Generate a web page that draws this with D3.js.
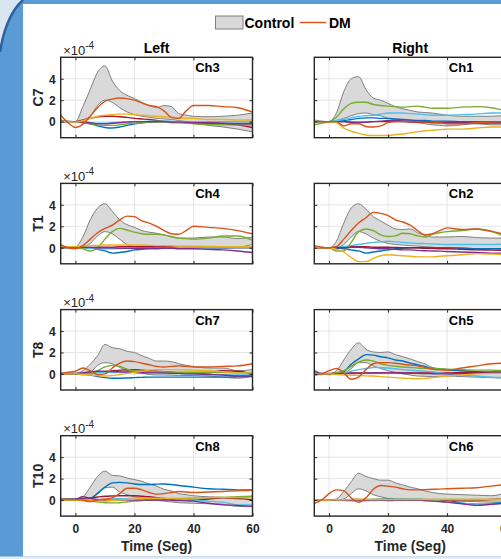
<!DOCTYPE html>
<html><head><meta charset="utf-8">
<script src="https://cdn.jsdelivr.net/npm/d3@7"></script>
<style>body{margin:0;overflow:hidden;background:#5b9bd5}svg{display:block}</style>
</head><body><svg id="c" width="501" height="559"></svg>
<script>
// ---------- data ----------
const times = [-5,-2.5,0,2.5,5,7.5,10,12.5,15,17.5,20,22.5,25,27.5,30,32.5,35,37.5,40,45,50,55,60];
const xTicks = [0,20,40,60];
const yTicks = [0,2,4];
const rowLabels = ["C7","T1","T8","T10"];
const colTitles = ["Left","Right"];
const channelGrid = [["Ch3","Ch1"],["Ch4","Ch2"],["Ch7","Ch5"],["Ch8","Ch6"]];
const seriesNames = ["DM","s2","s3","s4","s5","s6","s7"];
const seriesColors = ["#D95319","#EDB120","#7E2F8E","#77AC30","#4DBEEE","#A2142F","#0072BD"];

// Ch3 (C7 left)
const ch3Hi = [0.15,0.05,0,1.4,3.0,4.6,5.2,3.8,2.9,2.45,2.15,1.8,1.5,1.3,1.5,1.4,0.75,0.6,0.5,0.45,0.5,0.6,0.8];
const ch3Lo = [0.1,0.05,0,0.15,0.5,1.5,2.0,1.8,1.3,0.9,0.65,0.5,0.4,0.3,0.25,0.2,0.1,0,-0.15,-0.35,-0.5,-0.7,-0.95];
const ch3DM = [0.6,-0.1,-0.55,-0.25,0.5,1.3,1.9,2.1,2.2,2.15,2.0,1.75,1.5,1.4,1.0,0.4,0.3,1.0,1.5,1.5,1.4,1.3,0.9];
const ch3S2 = [0,0,-0.05,0.1,0.3,0.5,0.6,0.65,0.7,0.7,0.65,0.6,0.55,0.5,0.45,0.4,0.35,0.32,0.3,0.2,0.2,0.15,0.15];
const ch3S3 = [0,0,0,-0.05,-0.1,-0.2,-0.2,-0.15,-0.1,-0.05,0,0,0,0,0,-0.05,-0.05,-0.05,-0.1,-0.1,-0.15,-0.2,-0.2];
const ch3S4 = [0,0,0,-0.1,-0.2,-0.3,-0.35,-0.35,-0.3,-0.2,-0.15,-0.1,-0.05,-0.05,-0.05,-0.1,-0.1,-0.15,-0.2,-0.25,-0.3,-0.3,-0.3];
const ch3S5 = [0,0,0,-0.05,-0.1,-0.15,-0.15,-0.1,-0.05,0,0,0,0.05,0.05,0.05,0.05,0,0,0,0,0,0,0];
const ch3S6 = [0,0,0,0.15,0.3,0.45,0.5,0.5,0.45,0.4,0.3,0.25,0.2,0.1,0.05,0,-0.05,-0.05,-0.1,-0.15,-0.2,-0.3,-0.55];
const ch3S7 = [0,0,0,-0.1,-0.2,-0.4,-0.55,-0.6,-0.5,-0.35,-0.2,-0.1,-0.05,0,0,0,0,0,0,0,0,0,0];

// Ch1 (C7 right)
const ch1Hi = [0.15,0.05,0,0.8,2.8,4.0,4.2,3.0,2.2,2.0,1.7,1.4,1.2,1.05,0.9,0.85,0.8,0.7,0.6,0.5,0.5,0.5,0.6];
const ch1Lo = [0,0,0,0.1,0.3,0.55,0.75,0.8,0.65,0.55,0.3,0.2,0.1,0,-0.1,-0.2,-0.3,-0.35,-0.4,-0.3,-0.2,-0.3,-0.3];
const ch1DM = [0,0,0,0,-0.4,-0.2,-0.2,-0.45,-0.5,-0.4,-0.1,0,0,0,0,-0.05,-0.05,-0.1,-0.2,-0.2,-0.1,-0.05,0];
const ch1S2 = [-0.05,0,0,-0.1,-0.6,-0.9,-1.1,-1.25,-1.3,-1.3,-1.3,-1.2,-1.15,-1.05,-0.95,-0.85,-0.8,-0.75,-0.7,-0.7,-0.6,-0.5,-0.5];
const ch1S3 = [0,0,0,0,0,-0.05,-0.1,-0.05,0,0.05,0.1,0.1,0.05,0.05,0.05,0,0,-0.05,-0.05,-0.05,-0.1,-0.1,-0.1];
const ch1S4 = [-0.3,-0.15,0,0.4,1.2,1.7,1.8,1.8,1.6,1.5,1.45,1.4,1.35,1.4,1.45,1.35,1.25,1.25,1.25,1.35,1.4,1.3,1.0];
const ch1S5 = [0,0,0,0.1,0.2,0.35,0.5,0.55,0.6,0.7,0.8,0.8,0.8,0.75,0.7,0.65,0.6,0.6,0.6,0.65,0.7,0.8,0.8];
const ch1S6 = [0,0,0,0,0,-0.05,-0.05,-0.05,0,0,0,0,0,-0.05,-0.05,-0.05,-0.1,-0.1,-0.1,-0.1,-0.1,-0.1,-0.1];
const ch1S7 = [0,0,0,0.05,0.1,0.2,0.3,0.35,0.35,0.3,0.3,0.25,0.2,0.15,0.1,0.1,0.05,0.05,0.05,0,0,0,0];

// Ch4 (T1 left)
const ch4Hi = [0.1,0.1,0.1,1.0,2.6,3.7,4.1,3.4,2.6,2.15,1.9,1.6,1.45,1.35,1.2,1.0,0.9,0.9,0.9,1.0,1.0,0.85,1.0];
const ch4Lo = [0,0,0,0.05,0.4,1.1,1.5,1.3,0.8,0.3,0.1,0.05,0.05,0.05,0.05,0,0,0,0,0,0,0.05,0.3];
const ch4DM = [0.3,0,-0.1,0.2,0.8,1.4,1.8,2.1,2.6,2.95,2.9,2.5,2.3,2.0,1.6,1.3,1.25,1.6,2.0,1.9,1.8,1.6,1.3];
const ch4S2 = [0.1,0.1,0.1,0.15,0.2,0.22,0.25,0.25,0.25,0.25,0.25,0.25,0.22,0.2,0.2,0.18,0.15,0.15,0.15,0.12,0.1,0.1,0.1];
const ch4S3 = [0.05,0.05,0.05,0.05,0.05,0,0,0,-0.05,-0.05,-0.05,-0.05,-0.05,-0.05,-0.05,-0.05,-0.1,-0.1,-0.1,-0.15,-0.2,-0.3,-0.45];
const ch4S4 = [0.1,0.05,0,-0.1,-0.3,0,0.8,1.5,1.8,1.65,1.45,1.3,1.25,1.25,1.2,1.05,0.9,0.85,0.8,0.9,1.1,1.1,0.7];
const ch4S5 = [0,0,0,0,-0.05,-0.1,-0.1,-0.1,-0.05,-0.05,-0.05,-0.05,-0.05,-0.05,-0.05,-0.05,0,0,0,0,0,0,0];
const ch4S6 = [0,0,0,0,0,0.05,0.05,0.05,0.1,0.1,0.1,0.1,0.1,0.1,0.1,0.1,0.05,0.05,0.05,0.05,0,0,0];
const ch4S7 = [0.1,0.1,0.1,0.05,0,-0.15,-0.3,-0.5,-0.45,-0.35,-0.2,-0.15,-0.1,-0.1,-0.05,-0.05,0,0,0,0,0,0.05,0.05];

// Ch2 (T1 right)
const ch2Hi = [0.1,0.05,0,0.6,2.3,3.7,4.1,3.6,2.9,2.5,2.1,1.75,1.7,1.75,1.4,1.15,1.0,1.0,1.0,1.05,0.95,0.9,0.9];
const ch2Lo = [0,0,0,0,0.3,1.0,1.5,1.3,0.9,0.6,0.4,0.3,0.25,0.2,0.15,0.1,0.05,0,0,0,-0.1,-0.1,-0.1];
const ch2DM = [0.2,0.05,0,0.1,0.8,1.6,2.3,2.8,3.3,3.2,3.0,2.6,2.4,2.1,1.6,1.2,1.3,1.6,1.85,1.7,1.75,1.55,1.2];
const ch2S2 = [0,0,0,-0.15,-0.4,-0.9,-1.3,-1.3,-1.0,-0.75,-0.65,-0.7,-0.75,-0.8,-0.85,-0.85,-0.85,-0.8,-0.75,-0.65,-0.55,-0.6,-0.65];
const ch2S3 = [0,0,0,0,0,0.05,0.05,0,-0.05,-0.1,-0.1,-0.15,-0.2,-0.2,-0.25,-0.28,-0.3,-0.32,-0.35,-0.4,-0.45,-0.5,-0.5];
const ch2S4 = [0,0,0,-0.3,-0.3,0.5,1.5,1.75,1.6,1.2,1.05,1.1,1.35,1.3,1.1,1.0,1.25,1.4,1.5,1.6,1.75,1.5,1.0];
const ch2S5 = [0,0,0,0.05,0.1,0.2,0.3,0.4,0.5,0.55,0.6,0.55,0.5,0.45,0.4,0.38,0.35,0.32,0.3,0.3,0.3,0.3,0.35];
const ch2S6 = [0,0,0,0.05,0.05,0.1,0.1,0.1,0.05,0.05,0.05,0.02,0,0,0,-0.05,-0.05,-0.1,-0.1,-0.15,-0.2,-0.22,-0.25];
const ch2S7 = [0,0,0,-0.05,-0.1,-0.2,-0.3,-0.5,-0.4,-0.3,-0.2,-0.1,-0.05,0,0,0,0,0,0,-0.05,-0.1,-0.1,-0.1];

// Ch7 (T8 left)
const ch7Hi = [0.05,0.05,0.05,0.3,0.9,1.7,2.75,2.45,2.35,2.1,2.0,1.7,1.45,1.2,1.2,1.15,0.95,0.8,0.7,0.55,0.55,0.3,0.4];
const ch7Lo = [0,0,0,0,0.15,0.8,1.05,0.95,0.6,0.3,0.1,0.05,-0.05,-0.1,-0.1,-0.12,-0.15,-0.15,-0.15,-0.2,-0.3,-0.4,-0.2];
const ch7DM = [0.05,0.15,0.25,0.55,0.3,-0.05,0,0.55,1.0,1.2,1.15,1.0,0.85,0.7,0.65,0.7,0.75,0.7,0.65,0.65,0.7,0.75,0.95];
const ch7S2 = [0,0,0,-0.05,-0.1,-0.15,-0.2,-0.15,-0.05,0.05,0.15,0.25,0.35,0.4,0.4,0.4,0.4,0.38,0.35,0.3,0.2,0.1,0.1];
const ch7S3 = [0,0,0,0.1,0.2,0.25,0.25,0.22,0.2,0.18,0.15,0.12,0.1,0.1,0.1,0.05,0.05,0,0,-0.05,-0.1,-0.2,-0.2];
const ch7S4 = [0,0,0,0,0,0.3,0.65,0.8,0.7,0.45,0.3,0.25,0.2,0.2,0.2,0.18,0.15,0.15,0.15,0.15,0.15,0.12,0.1];
const ch7S5 = [0.05,0.05,0.05,0.08,0.1,0.12,0.15,0.15,0.15,0.18,0.2,0.18,0.15,0.12,0.1,0.08,0.05,0.02,0,-0.05,-0.1,-0.1,-0.1];
const ch7S6 = [0.05,0.05,0.05,0.08,0.1,0.15,0.2,0.28,0.35,0.38,0.4,0.35,0.3,0.25,0.2,0.15,0.1,0.08,0.05,0.1,0.3,0.25,0];
const ch7S7 = [0,0,0,-0.05,-0.1,-0.25,-0.35,-0.4,-0.4,-0.38,-0.35,-0.32,-0.3,-0.3,-0.3,-0.3,-0.3,-0.3,-0.3,-0.3,-0.3,-0.28,-0.25];

// Ch5 (T8 right)
const ch5Hi = [0.1,0.05,0,0.3,1.3,2.3,2.9,2.3,2.05,2.0,2.05,1.8,1.6,1.4,1.15,0.95,0.6,0.5,0.4,0.3,0.2,0.15,0.15];
const ch5Lo = [0,0,0,0,0.05,0.5,1.05,1.05,0.75,0.5,0.3,0.15,0,-0.1,-0.2,-0.22,-0.25,-0.22,-0.2,-0.25,-0.3,-0.35,-0.4];
const ch5DM = [-0.1,0,0.3,0.5,0.1,-0.5,-0.3,0.4,0.95,1.05,1.05,1.0,0.9,0.82,0.75,0.6,0.45,0.38,0.35,0.55,0.75,0.95,1.0];
const ch5S2 = [0,0,0,-0.05,-0.1,-0.12,-0.15,-0.18,-0.2,-0.25,-0.3,-0.35,-0.4,-0.42,-0.45,-0.42,-0.35,-0.28,-0.2,-0.1,0,0.05,0.05];
const ch5S3 = [0,0,0,0.02,0.03,0.04,0.05,0.07,0.08,0.09,0.1,0.1,0.08,0.06,0.05,0.03,0.02,0,0,0.02,0.05,0.08,0.1];
const ch5S4 = [0,0,0,0.1,0.3,0.7,1.1,1.3,1.2,0.95,0.8,0.72,0.65,0.6,0.55,0.52,0.5,0.48,0.45,0.4,0.35,0.35,0.3];
const ch5S5 = [0,0,0,0.05,0.1,0.25,0.4,0.5,0.6,0.58,0.55,0.48,0.4,0.35,0.3,0.25,0.2,0.1,0,-0.1,-0.2,-0.3,-0.35];
const ch5S6 = [0.05,0.05,0.05,0.06,0.08,0.09,0.1,0.1,0.1,0.1,0.1,0.1,0.1,0.1,0.1,0.1,0.1,0.1,0.1,0.12,0.15,0.18,0.2];
const ch5S7 = [0.3,0,-0.05,0,0.2,0.9,1.4,1.8,1.75,1.6,1.5,1.3,1.2,1.0,0.85,0.7,0.5,0.45,0.4,0.3,0.2,0.1,0.1];

// Ch8 (T10 left)
const ch8Hi = [0.05,0.08,0.1,0.3,1.2,2.2,2.7,2.3,2.25,2.05,1.9,1.75,1.5,1.3,1.0,0.85,0.6,0.5,0.4,0.3,0.25,0.1,0.4];
const ch8Lo = [0.05,0.05,0.05,0.1,0.15,0.7,1.15,1.2,0.75,0.5,0.3,0.15,0,-0.05,-0.1,-0.18,-0.25,-0.28,-0.3,-0.35,-0.4,-0.6,-0.6];
const ch8DM = [0.1,0.08,0.05,0,-0.15,0,0.1,0.2,0.6,1.1,1.1,0.95,0.7,0.55,0.6,0.7,0.8,0.75,0.7,0.75,0.8,0.85,0.9];
const ch8S2 = [0,0,0,-0.03,-0.05,-0.08,-0.1,-0.05,0,0.05,0.1,0.12,0.13,0.14,0.15,0.16,0.17,0.18,0.2,0.22,0.25,0.22,0.2];
const ch8S3 = [0,0,0.05,0.3,0.15,0.05,-0.05,-0.03,0,0,0,0,0,0,0,-0.02,-0.05,-0.08,-0.1,-0.3,-0.45,-0.5,-0.6];
const ch8S4 = [0,0,0,-0.05,-0.1,-0.18,-0.25,-0.27,-0.25,-0.18,-0.1,-0.05,0,0.03,0.05,0.1,0.12,0.15,0.2,0.22,0.25,0.3,0.35];
const ch8S5 = [0.05,0.05,0.05,0.05,0.05,0.05,0.05,0.1,0.12,0.15,0.2,0.2,0.18,0.16,0.15,0.1,0.05,0.02,0,-0.1,-0.2,-0.45,-0.45];
const ch8S6 = [0.05,0.05,0.05,0.12,0.2,0.28,0.35,0.38,0.4,0.4,0.4,0.35,0.3,0.22,0.15,0.1,0.05,0.02,0,0.1,0.2,0.15,0];
const ch8S7 = [0.1,0.1,0.1,0.1,0.15,0.6,1.2,1.6,1.65,1.6,1.5,1.45,1.45,1.48,1.5,1.45,1.35,1.28,1.2,1.05,1.0,0.95,0.95];

// Ch6 (T10 right)
const ch6Hi = [0.05,0.02,0,0.1,0.8,1.7,2.5,2.2,2.0,1.85,1.85,1.6,1.4,1.2,1.05,0.85,0.7,0.6,0.55,0.5,0.45,0.4,0.7];
const ch6Lo = [0,0,0,0,0.1,0.6,1.05,0.85,0.5,0.3,0.15,0.05,0,-0.02,-0.05,-0.07,-0.08,-0.09,-0.1,-0.12,-0.15,-0.2,-0.2];
const ch6DM = [-0.3,0,0.6,0.95,0.85,0.2,-0.2,0.2,1.0,1.35,1.3,1.2,1.05,0.95,0.95,0.97,1.0,1.02,1.05,1.1,1.15,1.3,1.45];
const ch6S2 = [0,0,0,0.02,0.03,0.04,0.05,0.05,0.05,0.05,0.05,0.05,0.05,0.05,0.05,0.05,0.05,0.05,0.05,0.05,0.05,0.05,0.05];
const ch6S3 = [0,0,0,0,0,0,0,0,0,0,0,0,0,0,0,-0.05,-0.1,-0.15,-0.2,-0.35,-0.5,-0.4,-0.3];
const ch6S4 = [0,0,0,0.02,0.03,0.05,0.05,0.05,0.05,0.05,0.05,0.05,0.05,0.05,0.05,0.05,0.05,0.05,0.05,0.05,0.05,0.05,0.05];
const ch6S5 = [0,0,0,-0.03,-0.05,-0.08,-0.1,-0.08,-0.05,-0.02,0,0.03,0.05,0.08,0.1,0.05,0,-0.1,-0.2,-0.3,-0.4,-0.35,-0.3];
const ch6S6 = [0,0,0,0.02,0.03,0.04,0.05,0.03,0,-0.03,-0.05,-0.03,-0.02,0,0,0,0,0,0,0,0,0.05,0.1];
const ch6S7 = [0,0,0,0,0,0,0,0.03,0.05,0.08,0.1,0.08,0.07,0.06,0.05,0.04,0.03,0.02,0,-0.3,-0.4,-0.35,-0.2];

const panelData = {
  Ch3:{hi:ch3Hi,lo:ch3Lo,lines:[ch3DM,ch3S2,ch3S3,ch3S4,ch3S5,ch3S6,ch3S7]},
  Ch1:{hi:ch1Hi,lo:ch1Lo,lines:[ch1DM,ch1S2,ch1S3,ch1S4,ch1S5,ch1S6,ch1S7]},
  Ch4:{hi:ch4Hi,lo:ch4Lo,lines:[ch4DM,ch4S2,ch4S3,ch4S4,ch4S5,ch4S6,ch4S7]},
  Ch2:{hi:ch2Hi,lo:ch2Lo,lines:[ch2DM,ch2S2,ch2S3,ch2S4,ch2S5,ch2S6,ch2S7]},
  Ch7:{hi:ch7Hi,lo:ch7Lo,lines:[ch7DM,ch7S2,ch7S3,ch7S4,ch7S5,ch7S6,ch7S7]},
  Ch5:{hi:ch5Hi,lo:ch5Lo,lines:[ch5DM,ch5S2,ch5S3,ch5S4,ch5S5,ch5S6,ch5S7]},
  Ch8:{hi:ch8Hi,lo:ch8Lo,lines:[ch8DM,ch8S2,ch8S3,ch8S4,ch8S5,ch8S6,ch8S7]},
  Ch6:{hi:ch6Hi,lo:ch6Lo,lines:[ch6DM,ch6S2,ch6S3,ch6S4,ch6S5,ch6S6,ch6S7]}
};

// ---------- drawing ----------
const svg = d3.select("#c");
const FONT = "Liberation Sans, Arial, Helvetica, sans-serif";
const INK = "#262626";

// slide background
svg.append("rect").attr("width",501).attr("height",559).attr("fill","#5b9bd5");
svg.append("path").attr("d","M0,0 L23,0 Q6,15 0,52 Z").attr("fill","#dae5f2");
svg.append("path").attr("d","M23,0 Q6,15 0,52").attr("fill","none").attr("stroke","#2f5f9e").attr("stroke-width",2.5);
svg.append("rect").attr("x",23).attr("y",4).attr("width",478).attr("height",552.5).attr("fill","#ffffff");
svg.append("rect").attr("x",0).attr("y",556.5).attr("width",501).attr("height",3).attr("fill","#e4ecf5");

const axW = 191.8, axH = 80.4;
const colX = [60.7, 314.3];
const rowY = [57.3, 183.4, 309.6, 435.7];
const x = d3.scaleLinear().domain([-5,60]).range([0,axW]);
const y = d3.scaleLinear().domain([-1.5,6]).range([axH,0]);

const defs = svg.append("defs");
defs.append("clipPath").attr("id","axclip").append("rect").attr("width",axW).attr("height",axH);

const area = d3.area().x((d,i)=>x(times[i])).y0(d=>y(d[0])).y1(d=>y(d[1])).curve(d3.curveMonotoneX);
const line = d3.line().x((d,i)=>x(times[i])).y(d=>y(d)).curve(d3.curveMonotoneX);

channelGrid.forEach((row,ri)=>{
  row.forEach((ch,ci)=>{
    const g = svg.append("g").attr("transform",`translate(${colX[ci]},${rowY[ri]})`);
    const pd = panelData[ch];
    // grid
    g.append("g").selectAll("line").data(xTicks).join("line")
      .attr("x1",d=>x(d)).attr("x2",d=>x(d)).attr("y1",0).attr("y2",axH)
      .attr("stroke","#dedede").attr("stroke-width",0.8);
    g.append("g").selectAll("line").data(yTicks).join("line")
      .attr("y1",d=>y(d)).attr("y2",d=>y(d)).attr("x1",0).attr("x2",axW)
      .attr("stroke","#dedede").attr("stroke-width",0.8);
    const pg = g.append("g").attr("clip-path","url(#axclip)");
    const band = pd.hi.map((h,i)=>[pd.lo[i],h]);
    pg.append("path").attr("d",area(band)).attr("fill","#d9d9d9").attr("stroke","none");
    pg.append("path").attr("d",line(pd.hi)).attr("fill","none").attr("stroke","#7f7f7f").attr("stroke-width",1);
    pg.append("path").attr("d",line(pd.lo)).attr("fill","none").attr("stroke","#7f7f7f").attr("stroke-width",1);
    const order = [6,5,4,3,2,1,0];
    order.forEach(k=>{
      pg.append("path").attr("d",line(pd.lines[k])).attr("fill","none")
        .attr("stroke",seriesColors[k]).attr("stroke-width",1.4);
    });
    // axes with inward ticks
    const xb = d3.axisBottom(x).tickValues(xTicks).tickSizeInner(-3).tickSizeOuter(0)
      .tickFormat(ri===3 ? d3.format("d") : ()=>"");
    const gx = g.append("g").attr("transform",`translate(0,${axH})`).call(xb);
    const xt = d3.axisTop(x).tickValues(xTicks).tickSizeInner(-3).tickSizeOuter(0).tickFormat(()=>"");
    const gxt = g.append("g").call(xt);
    const yl = d3.axisLeft(y).tickValues(yTicks).tickSizeInner(-3).tickSizeOuter(0)
      .tickFormat(ci===0 ? d3.format("d") : ()=>"");
    const gy = g.append("g").call(yl);
    const yr = d3.axisRight(y).tickValues(yTicks).tickSizeInner(-3).tickSizeOuter(0).tickFormat(()=>"");
    const gyr = g.append("g").attr("transform",`translate(${axW},0)`).call(yr);
    [gx,gxt,gy,gyr].forEach(a=>{
      a.select(".domain").remove();
      a.selectAll(".tick line").attr("stroke",INK).attr("stroke-width",1);
      a.selectAll(".tick text").attr("fill",INK).attr("font-family",FONT)
        .attr("font-size",12).attr("font-weight","bold");
    });
    gx.selectAll(".tick text").attr("dy",null).attr("y",17.4);
    gy.selectAll(".tick text").attr("x",-5).attr("dy","0.36em");
    g.append("rect").attr("width",axW).attr("height",axH).attr("fill","none")
      .attr("stroke",INK).attr("stroke-width",1.4);
    // channel label
    g.append("text").attr("x",134.5).attr("y",15).text(ch)
      .attr("font-family",FONT).attr("font-size",13).attr("font-weight","bold").attr("fill","#000");
    if(ci===0){
      const t = g.append("text").attr("x",2.5).attr("y",-2.5).attr("font-family",FONT)
        .attr("font-size",13).attr("fill",INK);
      t.append("tspan").text("×10");
      t.append("tspan").attr("dy",-5.5).attr("font-size",10).text("-4");
      g.append("text").attr("transform",`translate(-23,${axH/2}) rotate(-90)`)
        .attr("text-anchor","middle").attr("dy","0.35em").text(rowLabels[ri])
        .attr("font-family",FONT).attr("font-size",14).attr("font-weight","bold").attr("fill",INK);
    }
    if(ri===0){
      g.append("text").attr("x",axW/2).attr("y",-4).attr("text-anchor","middle").text(colTitles[ci])
        .attr("font-family",FONT).attr("font-size",14).attr("font-weight","bold").attr("fill","#000");
    }
    if(ri===3){
      g.append("text").attr("x",axW/2).attr("y",axH+35).attr("text-anchor","middle").text("Time (Seg)")
        .attr("font-family",FONT).attr("font-size",14).attr("font-weight","bold").attr("fill",INK);
    }
  });
});

// legend
const lg = svg.append("g");
lg.append("rect").attr("x",215.5).attr("y",16).attr("width",27.5).attr("height",13)
  .attr("fill","#d9d9d9").attr("stroke","#7f7f7f").attr("stroke-width",1);
lg.append("text").attr("x",244.5).attr("y",28).text("Control")
  .attr("font-family",FONT).attr("font-size",14).attr("font-weight","bold").attr("fill","#000");
lg.append("line").attr("x1",300).attr("x2",326).attr("y1",22.5).attr("y2",22.5)
  .attr("stroke",seriesColors[0]).attr("stroke-width",1.4);
lg.append("text").attr("x",329).attr("y",28).text(seriesNames[0])
  .attr("font-family",FONT).attr("font-size",14).attr("font-weight","bold").attr("fill","#000");
</script>
</body></html>
